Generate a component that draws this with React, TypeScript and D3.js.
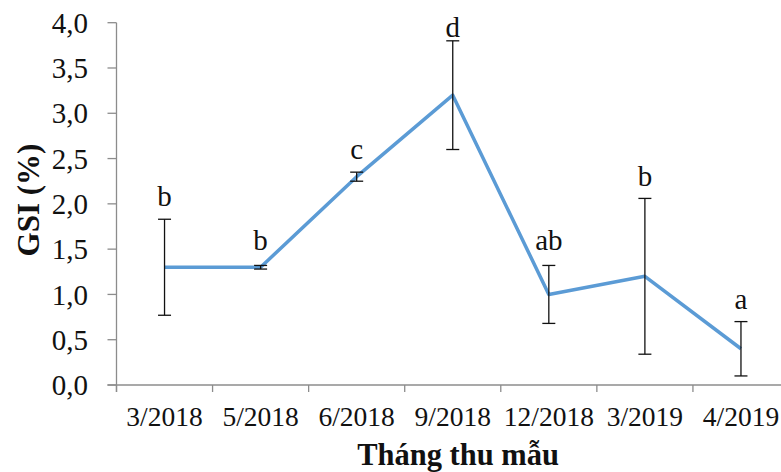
import React from "react";
import * as d3 from "d3";

const categories = ["3/2018", "5/2018", "6/2018", "9/2018", "12/2018", "3/2019", "4/2019"];
const gsiMean = [1.3, 1.3, 2.3, 3.2, 1.0, 1.2, 0.4];
const gsiErr = [0.53, 0.02, 0.05, 0.6, 0.32, 0.86, 0.3];
const groupLetters = ["b", "b", "c", "d", "ab", "b", "a"];
const letterLevel = [1.98, 1.49, 2.5, 3.84, 1.49, 2.2, 0.84];
const yTicks = [0, 0.5, 1, 1.5, 2, 2.5, 3, 3.5, 4];

const W = 781;
const H = 472;
const left = 116.5;
const right = 789;
const top = 22.7;
const bottom = 385;

export default function App() {
  const x = d3.scaleBand<string>().domain(categories).range([left, right]).padding(0);
  const y = d3.scaleLinear().domain([0, 4]).range([bottom, top]);
  const cx = (c: string) => (x(c) ?? 0) + x.bandwidth() / 2;
  const line = d3
    .line<number>()
    .x((_, i) => cx(categories[i]))
    .y((v) => y(v));
  const fmt = (v: number) => v.toFixed(1).replace(".", ",");
  const font = "'Liberation Serif', 'Times New Roman', serif";
  const axisColor = "#8c8c8c";
  const boundaries = categories.map((c) => x(c) ?? 0).concat([right]);

  return (
    <svg width={W} height={H} style={{ position: "absolute", left: 0, top: 0, background: "#fff" }}>
      {/* y axis */}
      <line x1={left} x2={left} y1={top} y2={bottom + 7} stroke={axisColor} strokeWidth={1.3} />
      {yTicks.map((t) => (
        <g key={t}>
          <line x1={left - 9} x2={left} y1={y(t)} y2={y(t)} stroke={axisColor} strokeWidth={1.3} />
          <text
            x={88}
            y={y(t)}
            dy="0.35em"
            textAnchor="end"
            fontFamily={font}
            fontSize={29}
            fill="#111"
          >
            {fmt(t)}
          </text>
        </g>
      ))}
      {/* x axis */}
      <line x1={left - 9} x2={right} y1={bottom} y2={bottom} stroke={axisColor} strokeWidth={1.3} />
      {boundaries.map((b, i) => (
        <line key={i} x1={b} x2={b} y1={bottom} y2={bottom + 7} stroke={axisColor} strokeWidth={1.3} />
      ))}
      {categories.map((c) => (
        <text
          key={c}
          x={cx(c)}
          y={bottom + 41}
          textAnchor="middle"
          fontFamily={font}
          fontSize={27.5}
          fill="#111"
        >
          {c}
        </text>
      ))}
      {/* line */}
      <path d={line(gsiMean) ?? ""} fill="none" stroke="#5b9bd5" strokeWidth={3.5} strokeLinejoin="round" />
      {/* error bars */}
      {categories.map((c, i) => {
        const px = cx(c);
        const y1 = y(gsiMean[i] + gsiErr[i]);
        const y0 = y(gsiMean[i] - gsiErr[i]);
        return (
          <g key={c} stroke="#111" strokeWidth={1.3}>
            <line x1={px} x2={px} y1={y1} y2={y0} />
            <line x1={px - 6.5} x2={px + 6.5} y1={y1} y2={y1} />
            <line x1={px - 6.5} x2={px + 6.5} y1={y0} y2={y0} />
          </g>
        );
      })}
      {/* letters */}
      {categories.map((c, i) => (
        <text
          key={c}
          x={cx(c)}
          y={y(letterLevel[i])}
          textAnchor="middle"
          fontFamily={font}
          fontSize={29}
          fill="#111"
        >
          {groupLetters[i]}
        </text>
      ))}
      {/* axis titles */}
      <text
        x={458}
        y={465}
        textAnchor="middle"
        fontFamily={font}
        fontSize={30.5}
        fontWeight="bold"
        fill="#111"
      >
        Tháng thu mẫu
      </text>
      <text
        transform={`translate(39, 200) rotate(-90)`}
        textAnchor="middle"
        fontFamily={font}
        fontSize={31}
        fontWeight="bold"
        fill="#111"
      >
        GSI (%)
      </text>
    </svg>
  );
}
